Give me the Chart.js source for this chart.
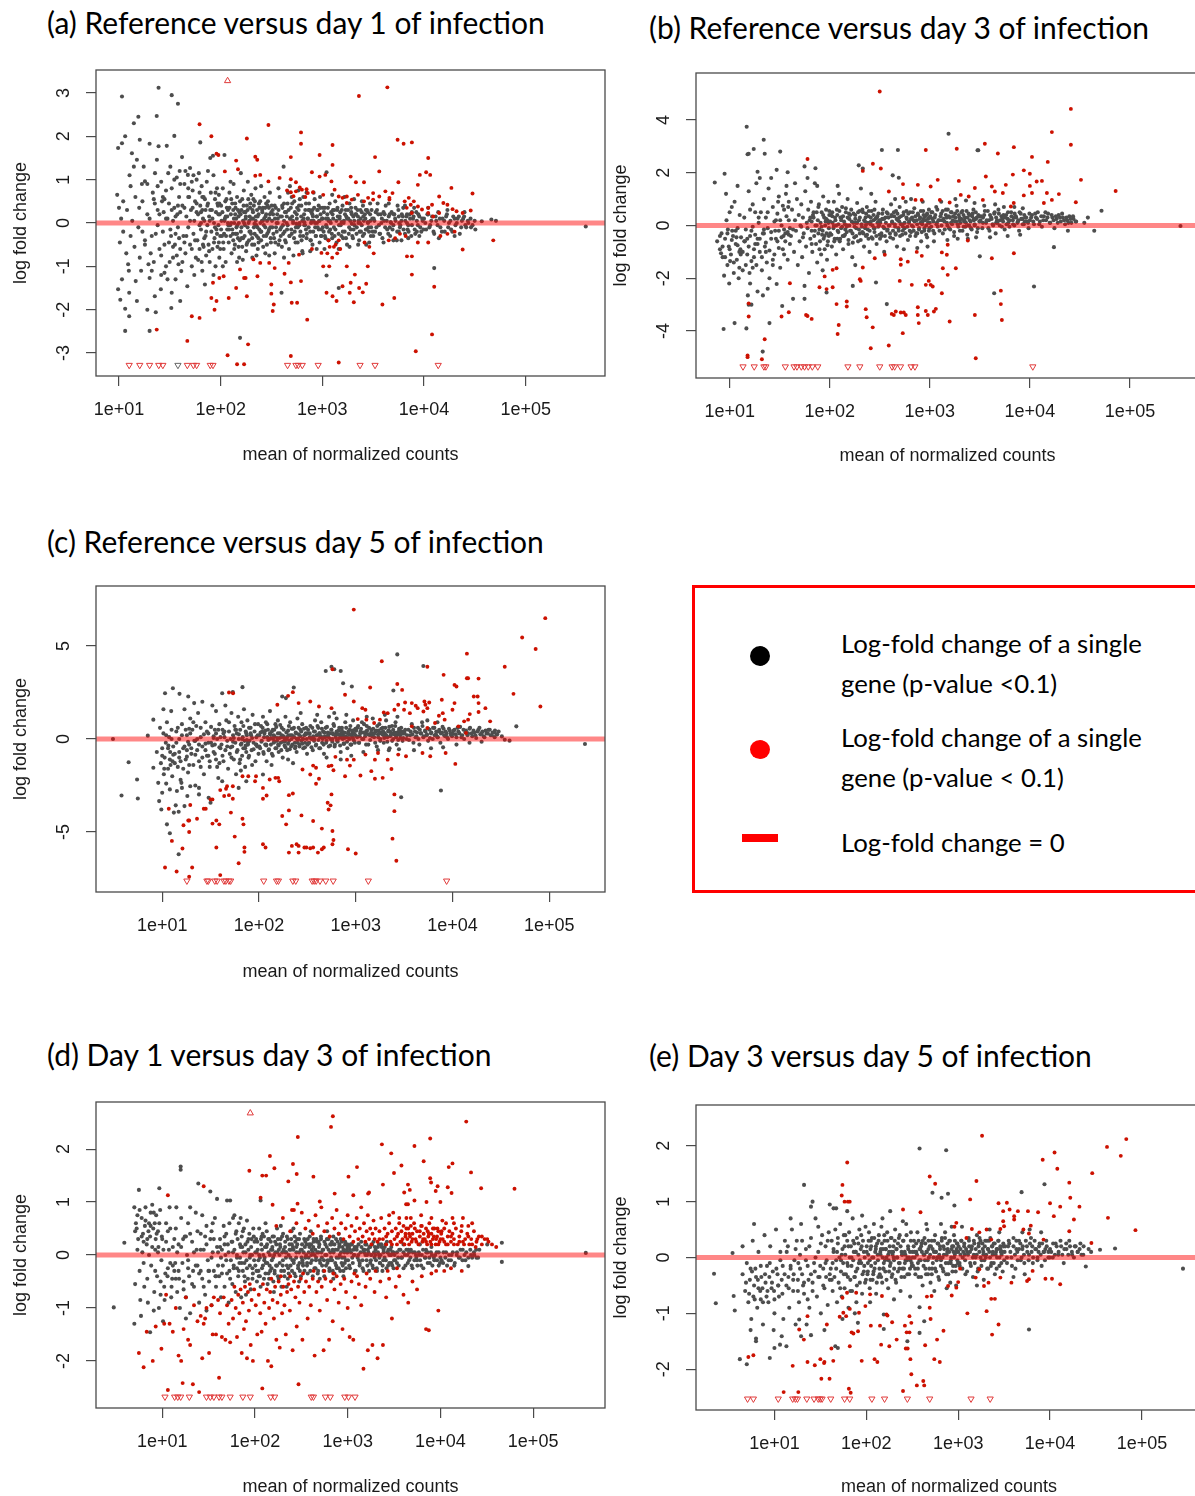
<!DOCTYPE html>
<html><head><meta charset="utf-8">
<script src="https://cdn.jsdelivr.net/npm/chart.js@4.4.1/dist/chart.umd.min.js"></script>
<style>
html,body{margin:0;padding:0;width:1195px;height:1496px;overflow:hidden;background:#fff;position:relative;}
.txt{position:absolute;white-space:nowrap;font-family:Lato,"Open Sans",sans-serif;color:#000;line-height:1.2;}
.bl{display:inline-block;width:0;height:0;vertical-align:baseline;}
</style></head><body>
<div id="tA" class="txt">(a) Reference versus day 1 of infection<span class="bl"></span></div>
<div id="tB" class="txt">(b) Reference versus day 3 of infection<span class="bl"></span></div>
<div id="tC" class="txt">(c) Reference versus day 5 of infection<span class="bl"></span></div>
<div id="tD" class="txt">(d) Day 1 versus day 3 of infection<span class="bl"></span></div>
<div id="tE" class="txt">(e) Day 3 versus day 5 of infection<span class="bl"></span></div>
<div style="position:absolute;left:692px;top:585px;width:700px;height:302px;border:3px solid #ff0000;"></div>
<div style="position:absolute;left:750px;top:646px;width:20px;height:20px;border-radius:50%;background:#000;"></div>
<div style="position:absolute;left:750px;top:740px;width:20px;height:19px;border-radius:50%;background:#ff0000;"></div>
<div style="position:absolute;left:742px;top:834px;width:36px;height:8px;background:#ff0000;"></div>
<div id="L1" class="txt">Log-fold change of a single<span class="bl"></span></div>
<div id="L2" class="txt">gene (p-value &lt;0.1)<span class="bl"></span></div>
<div id="L3" class="txt">Log-fold change of a single<span class="bl"></span></div>
<div id="L4" class="txt">gene (p-value &lt; 0.1)<span class="bl"></span></div>
<div id="L5" class="txt">Log-fold change = 0<span class="bl"></span></div>
<script>
// ---------- DATA: [mean of normalized counts, log fold change] ----------
const xTickValues=[10,100,1000,10000,100000];
const yTicksA=[-3,-2,-1,0,1,2,3];
const yTicksB=[-4,-2,0,2,4];
const yTicksC=[-5,0,5];
const yTicksD=[-2,-1,0,1,2];
const yTicksE=[-2,-1,0,1,2];

const grayA=[[9.6,.65],[9.8,1.73],[10.7,2.92],[10.7,1.84],[11.5,2.0],[9.8,-1.53],[10.3,-1.77],[11.5,-2.49],[11.5,-1.98],[12.6,-2.15],[10.7,-1.3],[12.6,-1.61],[13.4,1.61],[12.7,1.1],[14,2.3],[15.5,2.45],[16,1.92],[15,1.46],[15,-1.8],[14.6,-1.34],[10,.35],[10.5,.1],[11,-.2],[10.2,-.45],[11.8,-.7],[12.3,-.95],[11,.5],[12,.3],[13,-.3],[13.5,.05],[14.2,-.55],[13,.85],[14.5,.6],[15.5,-.1],[16,-.8],[15.8,.35],[12.5,-1.1],[16.5,-1.1],[16.8,.9],[14,1.3],
[18,.96],[20,1.83],[20,-1.27],[19,-2.0],[20,-2.49],[23,-2.06],[22.5,-1.69],[25.8,-1.53],[23.5,2.47],[24.5,3.12],[24.5,1.77],[29.5,1.78],[22.6,1.15],[23.6,1.46],[28,-1.15],[33,-1.61],[32.7,-1.96],[33,2.95],[35,2.01],[38,2.75],[32,1.3],[18,-.5],[19,.2],[21,-.3],[21.5,.7],[22,-.9],[24,.3],[25,-.6],[26,.95],[27,-.2],[28,.55],[29,-1.0],[30,.1],[31,-.45],[33,.8],[34,-.8],[35,.35],[36,-1.3],[37,1.05],[38,-.1],[39,.6],[40,-.6],[17.5,1.3],[19.5,-.95],[26,-1.2],[30.5,1.15],[36,-.25],[39.5,1.2],[27.5,.25],[31.5,-.9],[34,.05],[38.5,-.95],[40,-1.8],[41.7,1.52],[41,-1.11],[40,.9],[24,-.05],[29,.75],[35.5,-.5],[22.5,.45],[17,-.2],[20.5,-.7],[26.5,.5],[32.5,-.3],[37.5,.2],
[47,-1.46],[47.6,1.11],[50,1.27],[61,1.15],[63,1.86],[70,-1.42],[79,1.5],[84,1.55],[42,.4],[43,-.3],[44,.9],[45,-.7],[46,.15],[48,-.1],[49,.6],[50,-.5],[51,.3],[52,-1.0],[53,.75],[54,-.25],[55,.05],[56,.5],[57,-.8],[58,1.0],[59,-.4],[60,.2],[62,-.6],[63,.4],[64,-.15],[65,.85],[66,-1.1],[67,.1],[68,.6],[69,-.35],[71,.3],[72,-.75],[73,.95],[74,-.05],[75,.45],[76,-.5],[77,.15],[78,-.9],[80,.7],[81,-.2],[82,.3],[83,-.6],[85,1.1],[86,.0],[87,-.35],[88,.55],[89,-1.0],[90,.25],[91,-.15],[92,.8],[93,-.55],[94,.4],[95,-.05],[96,.65],[97,-.8],[98,.2],[99,-.3],[45,1.2],[55,-1.2],[65,-.9],[75,1.2],[85,-1.2],[52,.95],[72,-.2],[88,-.1],[58,.25],[62,-.05],[44,-.45],[53,.35],[67,-.5],[78,.05],[93,.45],[48,.8],[70,.55],[96,-.45],
[101,.4],[103,-.3],[105,.8],[107,-.6],[109,1.57],[110,.1],[112,-.9],[114,.55],[116,-.15],[118,.3],[120,-.45],[122,.7],[124,-.05],[126,.2],[128,-.7],[130,.45],[132,-.25],[134,.9],[136,.0],[138,-.5],[140,.35],[143,-.1],[145,.6],[148,-.35],[150,.15],[152,-.8],[155,.5],[155,-2.65],[158,1.15],[158,-.2],[160,.3],[163,-.55],[166,.05],[169,.75],[172,-.3],[175,.25],[178,-.65],[181,.4],[184,-.1],[187,.55],[190,-.4],[193,.15],[196,-.2],[200,.65],[204,-.5],[208,.1],[212,.4],[216,-.25],[220,.8],[224,-.05],[228,.3],[232,-.6],[236,.2],[240,-.15],[245,.5],[250,-.4],[255,.05],[260,.35],[265,-.3],[270,.6],[275,-.1],[280,.2],[285,-.5],[290,.4],[295,-.2],[300,.1],[305,.7],[310,-.35],[315,.25],[105,-1.0],[125,.95],[145,-.9],[165,-.85],[185,.95],[205,-.8],[225,-.75],[250,.85],[275,-.7],[300,-.75],[118,.0],[135,.1],[170,.0],[215,-.02],[260,.05],[140,-.25],[195,.35],[235,-.35],[280,.45],[112,.15],[150,-.55],[210,.55],[102,.05],[108,-.25],[115,.35],[121,-.15],[127,.55],[133,-.4],[139,.2],[146,-.05],[153,.25],[161,-.35],[168,.4],[176,.1],[183,-.45],[191,.05],[199,-.25],[206,.3],[214,-.5],[222,.15],[230,-.1],[238,.45],[247,-.2],[256,.3],[266,-.05],[276,.15],[287,-.25],[298,.35],[308,-.1],
[320,.05],[330,-.25],[340,.4],[350,-.1],[360,.2],[370,-.5],[380,.6],[390,-.3],[397,-1.61],[400,.15],[410,-.05],[416,1.3],[420,.45],[430,-.4],[440,.25],[450,-.15],[460,.7],[470,-.6],[480,.1],[490,.35],[500,-.25],[515,.05],[530,.5],[545,-.45],[560,.2],[575,-.1],[590,.4],[605,-.3],[620,.15],[635,-.65],[650,.6],[665,-.05],[680,.3],[700,-.35],[720,.1],[740,.45],[760,-.2],[780,.25],[800,-.5],[820,.05],[840,.55],[860,-.3],[880,.15],[900,-.1],[920,.4],[940,-.45],[960,.2],[980,-.15],[340,-.7],[370,.8],[420,-.8],[480,.85],[520,-.75],[580,.75],[640,-.7],[700,.7],[760,-.65],[820,.7],[880,-.6],[950,.6],[355,.0],[445,.0],[555,-.02],[665,.02],[775,.0],[885,.0],[400,-.55],[600,.55],[800,.3],[500,.6],[325,.3],[345,-.45],[365,.1],[385,-.15],[405,.35],[425,-.2],[455,.45],[475,-.3],[505,.15],[535,-.2],[565,.35],[595,-.05],[625,-.4],[655,.1],[690,-.15],[730,.3],[770,-.4],[810,.15],[850,-.1],[890,.3],[930,.05],[970,-.3],
[1000,.1],[1030,-.2],[1060,.35],[1100,1.17],[1100,-1.21],[1090,-.05],[1120,.2],[1150,-.4],[1180,.45],[1210,.0],[1240,-.25],[1270,.3],[1300,-.1],[1340,.5],[1380,-.45],[1420,.15],[1450,-1.5],[1460,-.05],[1500,.25],[1540,-.3],[1580,.4],[1620,.0],[1660,-.2],[1700,.3],[1750,-.5],[1800,.1],[1850,.45],[1900,-.15],[1950,.2],[2000,-.35],[2060,.05],[2120,.35],[2180,-.1],[2240,.15],[2300,-.4],[2370,.3],[2440,-.05],[2510,.4],[2580,-.25],[2650,.1],[2730,-.15],[2810,.25],[2890,-.45],[2970,.05],[3050,.3],[3130,-.2],[1050,-.6],[1250,.65],[1450,-.6],[1650,.6],[1850,-.55],[2050,.55],[2250,-.5],[2450,.5],[2700,-.5],[2950,.45],[1150,.05],[1550,.02],[1950,-.02],[2350,.0],[2800,.02],[1015,.35],[1075,-.35],[1135,.1],[1195,-.15],[1260,.2],[1320,-.3],[1400,.3],[1480,.1],[1600,-.35],[1720,.15],[1820,-.25],[1920,.35],[2030,-.15],[2150,.2],[2270,.0],[2400,-.2],[2530,.15],[2680,.3],[2850,-.1],[3000,-.3],
[3200,.1],[3300,-.2],[3450,.3],[3600,-.05],[3750,.2],[3900,-.35],[4050,.05],[4200,.4],[4350,-.15],[4500,.15],[4650,-.3],[4800,.25],[5000,-.05],[5200,.1],[5400,-.4],[5600,.3],[5800,-.1],[6000,.05],[6250,.35],[6500,-.25],[6750,.15],[7000,-.05],[7250,.2],[7500,-.3],[7800,.1],[8100,-.15],[8400,.25],[8700,-.05],[9000,.15],[9400,-.2],[9700,.05],[3500,.45],[4000,-.45],[4500,.45],[5000,-.4],[5500,.4],[6000,-.4],[6500,.4],[7000,-.35],[8000,.35],[9000,-.3],[3800,.0],[4700,.02],[5700,.0],[6800,.0],[3350,.25],[3650,-.25],[4100,.2],[4600,-.1],[5100,.2],[5650,-.2],[6200,.15],[6900,-.15],[7600,.25],[8500,-.2],
[10000,.1],[10500,-.15],[11000,.2],[11500,-.05],[12000,.15],[12600,-1.04],[12600,-.25],[13200,.05],[13800,.25],[14500,-.1],[15200,.1],[16000,-.2],[16800,.2],[17600,.0],[18500,-.15],[19400,.15],[20400,-.05],[21400,.1],[22500,-.25],[23600,.05],[24800,.15],[26000,-.1],[27300,.0],[28700,.1],[30000,-.05],[31500,.05],[11000,.35],[14000,-.35],[17000,.3],[20000,-.3],[25000,.25],
[32000,-.15],[37000,.04],[46000,.08],[51000,.05],[390000,-.08]];
const coreA=[[17,.5],[18,-.4],[19,.9],[20,.1],[21,-1.1],[22,.55],[23,-.25],[24,.85],[25,.2],[26,-.75],[27,.6],[28,-.5],[29,.1],[30,-1.3],[31,.45],[32,-.15],[33,.3],[34,-.55],[35,1.0],[36,.15],[37,-.75],[38,.4],[39,-.35],[40,.25],[42,-.9],[44,.35],[46,-.3],[48,.6],[50,.05],[52,-.6],[54,1.1],[56,-.4],[58,.45],[60,-.85],[62,.7],[64,.0],[66,.3],[68,-.55],
[64,.25],[66,.6],[69,.05],[71,-.3],[74,.4],[77,-.65],[79,.3],[83,.1],[86,-.45],[89,.7],[92,-.25],[95,.2],[97,.45],[99,-.6],
[101,-.15],[104,.25],[106,-.45],[109,.05],[111,.5],[113,-.3],[116,.15],[119,-.05],[122,.35],[125,-.3],[127,.0],[130,-.15],[133,.3],[136,-.6],[139,.45],[142,.1],[145,-.25],[148,.3],[151,.0],[154,-.4],[157,.2],[160,-.1],[163,.55],[166,-.35],[170,.25],[173,-.05],[177,.15],[180,-.5],[184,.3],[188,.0],[192,-.2],[196,.45],[200,.1],[204,-.35],[208,.25],[212,-.1],[217,.5],[221,.05],[226,-.3],[231,.15],[236,-.45],[241,.35],[246,.0],[251,-.2],[257,.25],[262,-.55],[268,.1],[274,.35],[280,-.3],[286,.05],[292,.5],[299,-.15],[305,.2],[312,-.45],[318,.4],
[322,-.1],[328,.2],[335,-.35],[342,.1],[349,.35],[356,-.2],[364,.0],[371,.3],[379,-.4],[387,.15],[395,-.1],[403,.4],[412,-.25],[420,.05],[429,.25],[438,-.45],[447,.15],[456,-.05],[466,.3],[475,-.3],[485,.1],[495,-.15],[505,.45],[516,.0],[527,-.35],[538,.25],[549,-.1],[561,.1],[572,-.45],[584,.3],[597,.0],[609,-.2],[622,.4],[635,.05],[648,-.3],[662,.2],[676,-.05],[690,.45],[704,-.25],[719,.1],[734,-.1],[749,.3],[765,-.4],[781,.05],[797,.2],[814,-.2],[831,.35],[848,.0],[866,-.3],[884,.15],[902,.3],[921,-.15],[940,.05],[960,.35],[980,-.3],[995,.1],
[1010,-.1],[1035,.25],[1060,-.3],[1085,.1],[1110,-.1],[1135,.35],[1165,-.2],[1190,.05],[1220,.25],[1250,-.35],[1280,.1],[1310,.3],[1345,-.15],[1375,.05],[1410,.35],[1445,-.25],[1480,.15],[1515,-.05],[1555,.3],[1590,-.2],[1630,.05],[1670,.2],[1710,-.35],[1750,.1],[1790,.3],[1835,-.1],[1880,.05],[1925,.25],[1970,-.3],[2020,.15],[2070,-.05],[2120,.2],[2170,-.25],[2220,.3],[2270,.05],[2330,-.2],[2380,.1],[2440,.25],[2500,-.3],[2560,.05],[2620,.2],[2680,-.15],[2750,.3],[2810,.0],[2880,-.2],[2950,.2],[3020,-.1],[3100,.1],[3170,-.3],
[3250,.05],[3400,-.1],[3550,.2],[3700,-.25],[3850,.1],[4000,.25],[4150,-.1],[4300,.05],[4450,-.25],[4600,.2],[4750,.0],[4900,-.15],[5050,.2],[5250,.05],[5450,-.2],[5650,.15],[5850,-.05],[6050,.2],[6300,-.15],[6550,.05],[6800,.2],[7050,-.2],[7300,.1],[7600,-.05],[7900,.15],[8200,-.25],[8500,.05],[8800,.2],[9200,-.1],[9600,.1],[9900,-.15],
[10300,.0],[10800,.2],[11300,-.1],[11800,.05],[12400,-.2],[13000,.15],[13600,-.05],[14300,.1],[15000,-.2],[15800,.05],[16500,.15],[17300,-.1],[18200,.05],[19000,-.2],[20000,.1],[21000,.0],[22000,.15],[23200,-.1],[24300,.1],[25500,-.05],[27000,.05],[29000,-.1]];
const redA=[[62,2.28],[81,2.0],[181,1.95],[295,2.26],[617,2.09],[617,1.83],[1260,1.8],[2290,2.93],[4360,3.13],[5500,1.92],[6300,1.83],[7600,1.86],[91,1.6],[95,1.57],[110,1.19],[142,1.44],[148,1.24],[219,1.53],[229,1.46],[219,1.09],[245,1.11],[295,.96],[380,1.04],[490,1.52],[490,1.01],[550,.94],[790,1.17],[940,1.57],[940,1.07],[1070,1.11],[1260,1.34],[1230,.96],[1900,1.07],[2140,.94],[2570,.94],[3300,1.52],[3630,1.19],[11000,1.5],[10500,1.17],[11500,1.11],[9100,1.11],[5600,.94],[18600,.81],[30000,.68],[8700,.88],
[490,.71],[550,.73],[630,.77],[720,.69],[810,.71],[1020,.65],[1320,.77],[1450,.61],[1580,.58],[1740,.61],[1950,.54],[2240,.65],[2820,.58],[3160,.69],[3630,.61],[4170,.73],[4570,.58],[4900,.69],[6460,.5],[7080,.58],[7410,.42],[7940,.5],[8710,.38],[9550,.31],[11000,.35],[12000,.42],[14100,.61],[15500,.46],[17000,.42],[19100,.32],[20900,.27],[24000,.23],[28800,.29],[14100,.23],[4570,.54],[3160,.54],[2570,.5],[1740,.46],[6760,.35],[7590,.23],[11000,.23],[12300,.15],[450,.75],[520,.62],[600,.82],[680,.6],[700,.78],
[97,-1.27],[107,-1.23],[84,-1.38],[81,-1.73],[91,-1.8],[87,-2.0],[52,-2.15],[62,-2.19],[47,-2.72],[23.5,-2.46],[117,-3.05],[145,-3.26],[170,-3.26],[186,-2.8],[120,-1.73],[142,-1.5],[155,-1.07],[170,-1.27],[176,-1.27],[181,-1.69],[210,-.84],[230,-1.23],[245,-.92],[300,-.92],[315,-1.42],[315,-1.63],[325,-2.03],[333,-1.88],[340,-1.04],[425,-1.17],[467,-.92],[490,-1.37],[500,-1.84],[565,-1.84],[617,-1.34],[590,-.73],[490,-3.07],[710,-2.23],[790,-.6],[980,-.69],[1020,-1.0],[1170,-1.0],[1120,-.7],[1180,-.55],[1150,-.4],[1250,-.8],[1300,-.55],[1350,-.5],[1400,-.7],[1450,-.4],[1500,-.6],[1100,-1.61],[1260,-1.69],[1380,-1.8],[1580,-1.46],[1740,-1.0],[1450,-3.22],[1900,-1.38],[1860,-1.61],[2040,-1.83],[2090,-1.19],[2300,-1.5],[2500,-1.6],[2700,-1.4],[2800,-1.0],[2600,-.45],[2900,-.55],[3200,-.7],[3900,-1.88],[5100,-1.73],[7600,-1.19],[7600,-.77],[6800,-.77],[8300,-2.96],[12000,-2.57],[12600,-1.47],[24000,-.61],[48000,-.4],[4500,-.4],[5200,-.35],[5800,-.25],[6600,-.3],[8700,-.45],[11000,-.45],[14500,-.3],[17000,-.25],[20000,-.2]];
const triDownA=[12.6,16,20,24.6,27,47,54,58,79,84,455,550,580,635,910,2350,3300,13800];
const triDownGrayA=[38];
const triUpA=[117];

const grayB=[[7.1,1.63],[8.7,-3.92],[8.9,1.96],[7.5,-.6],[8,-.9],[8.3,-.3],[8.5,-1.2],[9,-.5],[9.3,.2],[9.5,-1.5],[9.8,-.8],[10,.5],[10.3,-1.1],[10.6,-.2],[11,-1.8],[11.2,.9],[11.5,-.7],[11.8,-1.3],[12,-.1],[12.3,-2.0],[12.6,.4],[12.8,-.9],[11.2,-3.7],[10.5,.7],[9.2,1.2],[12,1.5],[8.8,-1.9],[12.5,-1.6],[10.8,-.4],[9.6,-.15],[8.2,-1.05],[10.1,-1.35],[11.7,-.45],[9.9,-2.2],[12.9,-1.1],
[14.8,3.74],[15.1,2.7],[15.5,2.72],[17.4,2.9],[21.9,3.25],[22.4,2.72],[32,2.8],[19,2.04],[29.5,2.11],[13.5,-1.0],[14,.3],[14.5,-1.5],[15,-.5],[15.5,1.3],[16,-2.2],[16.5,-.2],[17,.8],[17.5,-1.2],[18,-.7],[18.5,1.6],[19,-2.5],[19.5,.1],[20,-1.0],[20.5,.5],[21,-1.7],[21.5,-.3],[22,1.0],[22.5,-.8],[23,.3],[23.5,-1.4],[24,-.1],[24.5,1.4],[25,-2.0],[26,-.5],[27,.7],[28,-1.1],[29,.2],[30,-.6],[31,1.1],[32,-1.6],[33,.0],[34,-.9],[35,.6],[36,-.3],[37,1.5],[38,-1.3],[39,.2],[40,-.7],[14.7,-3.9],[15.2,-2.65],[15.5,-3.0],[16.5,-3.0],[21.5,-2.65],[25,-3.7],[21.4,-4.78],[33.5,-3.05],[29.5,-2.22],[15.8,-1.8],[18,.5],[26,1.8],[22,-.3],[28.5,-.2],[34.5,-.4],[20,1.8],[24,-2.4],[17,-1.6],[30.5,.9],[36.5,1.2],[38.5,.7],[14.2,-.6],[16,.6],[19,-.5],[23,-1.0],[27,-1.5],[31,-.2],[35,-1.1],[39,-.35],
[38,2.02],[56,2.24],[72,2.17],[43,-2.78],[56,-2.78],[56,-2.29],[93,-2.54],[41,-.4],[42,.6],[44,-1.0],[45,.2],[46,-.2],[47,1.0],[48,-1.5],[49,.4],[50,-.6],[51,.0],[52,.8],[53,-1.2],[54,.3],[55,-.3],[57,1.3],[58,-.8],[59,.1],[60,-.1],[61,.6],[62,-1.8],[63,.2],[64,-.5],[65,.9],[66,-.2],[67,-1.0],[68,.4],[70,-.4],[71,1.6],[72,.0],[73,-.7],[74,.5],[75,-1.4],[76,.2],[77,-.3],[78,.8],[80,-.6],[81,.1],[82,-1.1],[83,.5],[85,-.2],[86,1.1],[87,-.5],[88,.3],[89,-.9],[90,.0],[92,.6],[93,-.3],[94,-1.3],[95,.2],[96,-.6],[97,.9],[98,-.1],[99,.4],[45,1.6],[60,1.8],[75,1.5],[85,-1.7],[52,-.05],[66,.15],[79,-.15],[91,.15],[43,-.15],[54,-.45],[69,.3],[84,-.35],[98,-.4],
[101,-.3],[103,.4],[105,-.8],[107,.1],[110,.9],[112,-.5],[114,.2],[116,-1.1],[118,.6],[120,-.2],[122,.05],[124,1.2],[126,-.6],[128,.3],[130,-.1],[133,.7],[136,-.9],[139,.15],[142,-.35],[145,.5],[148,-.05],[151,1.0],[154,-.7],[157,.25],[160,-.2],[164,.6],[168,-1.2],[172,.1],[176,-.45],[180,.4],[184,-.1],[188,.85],[192,-.6],[196,.2],[200,-.3],[205,1.4],[210,-.05],[215,.5],[220,-.8],[225,.15],[230,-.4],[235,.7],[240,-.15],[245,.35],[250,-1.0],[256,.05],[262,.55],[268,-.5],[274,.2],[280,-.25],[287,.9],[294,-.7],[300,.1],[307,.45],[314,-.35],[195,2.28],[214,2.16],[290,-2.16],[170,-2.29],[120,1.5],[180,-1.5],[260,1.2],[150,.0],[230,.02],[110,-.02],[280,.6],[135,-.4],[106,.35],[119,-.5],[131,.3],[143,-.15],[156,.45],[169,-.3],[182,.1],[198,.55],[212,-.25],[228,.3],[244,-.5],[258,.15],[276,-.1],[296,.3],[311,.0],
[320,.1],[330,-.4],[340,.6],[350,-.1],[360,.3],[332,2.86],[480,2.86],[370,-.6],[380,.45],[372,-2.98],[390,.0],[400,-.3],[410,.8],[420,.15],[426,1.9],[490,1.81],[430,-.5],[440,.35],[450,-.05],[460,.55],[470,-.8],[480,.2],[490,-.2],[500,.7],[515,.05],[530,-.35],[545,.4],[560,-.1],[575,.9],[590,.25],[605,-.55],[620,.1],[635,.5],[650,-.25],[665,.3],[680,-.05],[700,.65],[720,-.4],[740,.2],[760,.45],[780,-.15],[800,.3],[820,-.6],[840,.05],[860,.55],[880,-.2],[900,.35],[920,.0],[940,-.45],[960,.25],[980,.6],[350,-1.0],[450,1.0],[550,-.9],[650,1.0],[750,-.85],[850,.9],[950,-.8],[335,.25],[375,-.2],[415,.4],[455,-.3],[495,.3],[540,-.05],[585,.55],[630,-.2],[690,.2],[750,-.3],[810,.1],[870,.25],[930,.4],[990,-.1],
[1000,.1],[1040,.5],[1080,-.2],[1120,.3],[1160,.7],[1200,-.05],[1250,.2],[1300,.45],[1350,-.3],[1400,.15],[1450,.6],[1500,.0],[1550,.35],[1600,-.15],[1650,.5],[1700,.2],[1750,-.4],[1800,.3],[1850,.75],[1900,.05],[1950,.4],[2000,-.2],[2060,.25],[2120,.55],[2180,-.05],[2240,.3],[2300,.1],[2370,-.35],[2440,.45],[2510,.2],[2580,-.1],[2650,.35],[2730,.6],[2810,.0],[2890,.25],[2970,-.25],[3050,.4],[3130,.15],[1540,3.48],[3000,2.85],[3050,2.85],[3160,-1.17],[1100,-.6],[1500,-.55],[1900,-.5],[2400,-.5],[2900,-.45],[1300,.9],[1800,1.0],[2300,.95],[2800,.85],[1060,.25],[1180,.1],[1330,.2],[1480,.3],[1630,.1],[1780,.15],[1980,.2],[2200,.15],[2470,.0],[2760,.2],
[3200,.2],[3350,-.1],[3500,.4],[3650,.1],[3800,.55],[3950,-.2],[4100,.3],[4250,.05],[4400,.45],[4550,-.3],[4700,.2],[4850,.6],[5000,.0],[5200,.35],[5400,.15],[5600,-.15],[5800,.4],[6000,.25],[6250,-.05],[6500,.5],[6750,.2],[7000,.0],[7250,.35],[7500,.1],[7800,-.2],[8100,.45],[8400,.25],[8700,.05],[9000,.3],[9400,.15],[9700,-.1],[4400,-2.57],[3500,.75],[4500,.8],[5500,.7],[7000,.7],[8500,.65],[4000,-.45],[6000,-.4],[8000,-.35],[3400,.3],[3900,.2],[4600,.1],[5300,.25],[6100,.1],[6900,.3],[7700,.2],[8900,.15],
[10000,.2],[10500,.4],[11000,.05],[11500,.3],[12000,.5],[12600,.15],[13200,-.05],[13800,.35],[14500,.2],[15200,.45],[16000,.1],[16800,.3],[17600,-.1],[18500,.25],[19400,.4],[20400,.15],[21400,.3],[22500,.05],[23600,.2],[24800,.35],[26000,.1],[27300,.25],[28700,.15],[11000,-2.31],[17400,-.82],[24000,-.2],
[52000,.56],[44000,-.2],[35000,.1],[38000,.3],[320000,-.02]];
const coreB=[[8,-.4],[8.5,-.8],[9,-1.2],[9.5,-.3],[10,-.9],[10.5,-.55],[11,-1.4],[11.5,-.2],[12,-.75],[12.5,-1.0],[13,-.45],[13.5,-1.7],[14,-.6],[14.5,-.15],[15,-1.1],[15.5,-.8],[16,-.4],[16.5,-1.35],[17,-.05],[17.5,-.9],[18,-.35],[18.5,-1.5],[19,-.7],[19.5,.3],[20,-.5],[21,-1.2],[22,-.15],[23,-.65],[24,.5],[25,-.95],[26,-.25],[27,-1.3],[28,.15],[29,-.5],[30,.45],[31,-.85],[32,.2],[33,-.45],[34,.75],[35,-.15],[36,-.6],[37,.35],[38,-.25],[39,.9],[40,-.1],
[64,.3],[66,-.7],[69,.5],[71,-.2],[74,.0],[77,.7],[79,-.9],[83,-.05],[86,.4],[89,-.4],[92,.25],[95,-.75],[97,.1],[99,.55],
[101,.15],[104,-.35],[106,.5],[109,-.1],[111,-.6],[113,.3],[116,.0],[119,.4],[122,-.25],[125,.55],[127,-.5],[130,.2],[133,-.05],[136,.35],[139,-.4],[142,.05],[145,.65],[148,-.25],[151,.3],[154,-.55],[157,.0],[160,.4],[163,-.2],[166,.15],[170,-.65],[173,.45],[177,-.05],[180,.25],[184,-.4],[188,.1],[192,.5],[196,-.15],[200,.3],[204,-.55],[208,.05],[212,.6],[217,-.3],[221,.2],[226,-.1],[231,.45],[236,-.35],[241,.1],[246,.55],[251,-.2],[257,.3],[262,-.45],[268,.0],[274,.4],[280,-.1],[286,.25],[292,-.4],[299,.35],[305,-.05],[312,.2],[318,-.5],
[322,.2],[328,-.3],[335,.45],[342,-.05],[349,.25],[356,-.4],[364,.1],[371,.5],[379,-.15],[387,.3],[395,.0],[403,-.45],[412,.35],[420,.1],[429,-.2],[438,.5],[447,.05],[456,-.35],[466,.25],[475,.45],[485,-.1],[495,.15],[505,-.4],[516,.35],[527,.05],[538,-.2],[549,.5],[561,.1],[572,-.3],[584,.3],[597,-.05],[609,.45],[622,.15],[635,-.4],[648,.25],[662,.0],[676,.5],[690,-.2],[704,.15],[719,.35],[734,-.3],[749,.05],[765,.4],[781,-.1],[797,.25],[814,.55],[831,-.25],[848,.15],[866,.4],[884,-.1],[902,.2],[921,-.35],[940,.45],[960,.1],[980,-.2],[995,.3],
[1010,.35],[1035,-.05],[1060,.5],[1085,.15],[1110,-.3],[1135,.4],[1165,.05],[1190,.6],[1220,.2],[1250,-.2],[1280,.35],[1310,.0],[1345,.55],[1375,.25],[1410,-.15],[1445,.4],[1480,.1],[1515,.6],[1555,-.1],[1590,.3],[1630,.5],[1670,.05],[1710,.35],[1750,-.25],[1790,.45],[1835,.15],[1880,.55],[1925,-.05],[1970,.3],[2020,.1],[2070,.5],[2120,-.2],[2170,.4],[2220,.2],[2270,-.05],[2330,.55],[2380,.3],[2440,.0],[2500,.4],[2560,.15],[2620,-.15],[2680,.45],[2750,.25],[2810,.05],[2880,.5],[2950,.3],[3020,-.1],[3100,.35],[3170,.15],
[3250,.35],[3400,.1],[3550,.55],[3700,.2],[3850,-.1],[4000,.4],[4150,.25],[4300,.0],[4450,.5],[4600,.3],[4750,.1],[4900,.45],[5050,.2],[5250,-.05],[5450,.4],[5650,.3],[5850,.05],[6050,.5],[6300,.2],[6550,.35],[6800,.05],[7050,.45],[7300,.3],[7600,.15],[7900,.5],[8200,.25],[8500,.05],[8800,.4],[9200,.3],[9600,.1],[9900,.45],
[10300,.3],[10800,.15],[11300,.45],[11800,.25],[12400,.05],[13000,.35],[13600,.2],[14300,.5],[15000,.3],[15800,.1],[16500,.4],[17300,.2],[18200,.35],[19000,.1],[20000,.3],[21000,.45],[22000,.2],[23200,.3],[24300,.1],[25500,.25],[27000,.35],[29000,.15]];
const redB=[[316,5.08],[270,2.34],[324,2.16],[214,2.07],[60,2.52],[912,2.86],[1860,2.91],[3550,3.1],[4790,2.73],[6920,2.97],[10500,2.6],[15100,2.41],[16600,3.54],[25700,4.42],[25700,3.06],[32400,1.73],[72000,1.31],[8700,2.09],[10000,1.96],[6760,1.93],[5750,1.54],[11700,1.67],[13200,1.69],[10500,1.23],[14800,1.23],[19500,1.19],[28800,.88],[16600,.97],[13800,.85],[10000,1.5],[8700,1.14],[6900,.85],[6460,.72],[5370,1.23],[4470,1.29],[4170,1.48],[3630,1.86],[3390,.97],[2820,1.42],[2450,1.1],[2040,1.16],[1950,1.69],[1580,.87],[1260,.97],[1200,1.73],[1020,1.48],[830,.97],[760,1.54],[720,.97],[540,1.57],[390,1.29],[540,1.04],
[15.5,-2.95],[15.5,-3.45],[15.1,-4.93],[15.1,-4.99],[21,-5.07],[22.4,-4.31],[33,-3.45],[39,-3.29],[40,-2.19],[58,-3.39],[60,-3.43],[66,-3.54],[79,-2.34],[89,-1.93],[93,-2.41],[107,-2.34],[107,-1.68],[117,-1.62],[123,-3.77],[120,-4.11],[117,-2.98],[148,-2.88],[148,-3.07],[204,-2.1],[200,-2.04],[214,-1.59],[229,-3.17],[234,-3.48],[269,-3.86],[257,-4.65],[282,-1.24],[355,-1.11],[389,-4.55],[417,-3.35],[437,-3.39],[457,-3.26],[501,-2.1],[513,-3.3],[550,-3.3],[575,-3.39],[537,-4.08],[513,-1.28],[513,-1.49],[603,-1.37],[661,-2.25],[759,-3.1],[759,-3.39],[776,-3.7],[741,-1.0],[832,-1.15],[912,-2.25],[912,-3.24],[955,-3.39],[977,-2.1],[1020,-2.25],[1070,-2.31],[1100,-3.26],[1150,-3.16],[1320,-2.57],[1320,-1.02],[1350,-1.62],[1480,-1.11],[1510,-1.87],[1580,-3.64],[1820,-1.62],[1510,-.73],[2880,-5.03],[2820,-3.39],[2400,-.57],[4170,-1.24],[5130,-2.47],[5130,-2.98],[5250,-3.58],[6920,-1.05]];
const triDownB=[13.6,17.6,22,23,36,44,47,52,56,61,67,76,152,200,316,420,445,510,650,710,10700];

const grayC=[[3.1,0],[3.8,-3.04],[4.5,-1.25],[5.5,-2.18],[5.6,-3.2],[7.1,.18],[8.1,1.04],[8.1,-1.55],[9.3,-3.34],[9.8,-3.79],[11.2,-4.59],[12,-5.07],[9.1,-2.36],[10,-2.89],[12,-2.71],[9.5,.6],[10,-.5],[10.3,.3],[10.6,-1.0],[10.9,-.2],[11.2,.9],[11.5,-1.6],[11.8,.1],[12.1,-.7],[12.4,1.5],[12.7,-2.0],[13,-.4],[10.7,2.46],[12.9,2.73],[9.7,-1.3],[11,-2.4],[12.5,.5],[8.8,-.7],[10.3,1.6],[12.8,-1.2],[10.4,-1.9],[11.6,-.35],[12.2,-1.4],
[15.1,2.43],[18.6,2.29],[21.4,1.93],[14.8,-6.2],[13.8,-3.57],[14.8,-3.91],[13.2,-3.96],[17,-3.61],[15.8,-2.36],[19.5,-2.54],[24,-2.63],[24,-2.98],[18.2,-3.07],[30.2,-3.16],[31.6,-3.43],[16,-2.63],[13.5,-.8],[14,.4],[14.5,-1.5],[15,.0],[15.5,-2.2],[16,.8],[16.5,-.5],[17,1.6],[17.5,-1.1],[18,.2],[18.5,-1.8],[19,-.3],[19.5,1.1],[20,-.8],[20.5,.5],[21,-1.4],[21.5,-.1],[22,-2.5],[22.5,.7],[23,-.6],[23.5,1.4],[24,-1.2],[25,.1],[26,-.4],[27,-1.9],[28,.9],[29,-.9],[30,.3],[31,-1.5],[32,-.2],[33,1.8],[34,-.7],[35,.5],[36,-1.1],[37,.0],[38,-2.1],[39,.8],[40,-.5],[14.2,-2.8],[26,2.0],[36,1.5],[19,.55],[28,-.25],[34,.15],[15,-1.0],[18,-.6],[22,-.1],[25,-1.5],[30,-.9],[35,-.3],[39,-1.3],
[41.7,2.46],[53.7,2.52],[67.6,2.79],[41.7,-2.27],[61.7,-2.63],[74,-2.27],[41,-.3],[42,.5],[43,-1.2],[44,.1],[45,-.6],[46,1.0],[47,-.1],[48,-1.6],[49,.4],[50,-.8],[51,.0],[52,1.4],[53,-.4],[54,.2],[55,-1.1],[56,.7],[57,-.2],[58,-1.9],[59,.3],[60,-.6],[61,1.2],[62,.0],[63,-1.3],[64,.5],[65,-.3],[66,.9],[67,-.9],[68,.1],[69,-.5],[70,1.6],[71,-.1],[72,-1.5],[73,.4],[74,-.7],[75,.2],[76,1.0],[77,-.3],[78,-1.0],[79,.6],[80,-.1],[82,.3],[84,-.6],[86,1.3],[88,-.2],[90,.4],[92,-1.2],[94,.1],[96,-.4],[98,.8],[99,-.8],[45,1.8],[65,-1.7],[85,-1.4],[55,.05],[75,-.05],[43,.3],[51,-.45],[58,.5],[66,-.25],[73,-.35],[83,.2],[93,-.3],
[101,.2],[103,-.5],[105,.7],[107,-.1],[110,-1.91],[110,1.2],[112,-.8],[114,.3],[116,-.3],[118,.9],[120,-1.2],[122,.1],[124,.5],[126,-.6],[128,.0],[130,1.5],[133,-.3],[136,.4],[139,-.9],[142,.2],[145,-.15],[148,.8],[151,-.5],[154,.05],[157,1.0],[160,-.7],[164,.3],[168,-.2],[172,.6],[176,-1.0],[180,.15],[184,-.35],[188,1.2],[192,.0],[196,-.6],[200,.45],[205,-.1],[210,.9],[215,-.4],[220,.2],[225,-1.3],[230,.6],[235,-.2],[240,.35],[245,-.7],[250,1.1],[256,.0],[262,-.3],[268,.5],[274,-.1],[280,.8],[287,-.5],[294,.2],[300,-.2],[307,.6],[314,-.8],[174,2.29],[190,2.2],[229,2.77],[135,-1.4],[200,-1.1],[270,1.4],[140,.0],[250,.02],[108,.4],[119,-.35],[131,.25],[144,.5],[158,-.3],[171,.1],[186,-.15],[202,.2],[218,.55],[238,-.4],[258,.25],[284,.0],[304,.3],
[320,.3],[330,-.2],[340,.7],[350,.0],[360,-.6],[370,.4],[380,1.0],[390,-.3],[400,.2],[410,.6],[420,-.5],[430,.1],[440,.9],[450,-.2],[460,.4],[470,-.8],[480,.15],[490,.6],[500,-.1],[490,3.66],[562,3.89],[600,3.75],[700,3.66],[741,3.0],[912,2.82],[515,.35],[530,1.2],[545,-.35],[560,.5],[575,.0],[590,.8],[605,-.4],[620,.25],[635,1.1],[650,-.15],[665,.45],[680,.05],[700,-.7],[720,.6],[740,.2],[760,-.25],[780,.9],[800,.1],[820,-.5],[840,.4],[860,.0],[880,.7],[900,-.3],[920,.3],[940,1.0],[960,-.1],[980,.5],[400,1.3],[600,1.4],[800,1.3],[500,-1.0],[700,-1.1],[900,-.9],[335,.1],[375,.0],[425,.3],[475,.35],[525,.1],[580,.3],[640,-.05],[710,.3],[770,.05],[850,.25],[930,.1],
[1000,.2],[1040,.6],[1080,-.2],[1120,.4],[1160,.9],[1200,.0],[1250,.3],[1300,.7],[1350,-.3],[1400,.2],[1450,.5],[1500,1.1],[1550,.1],[1600,.4],[1650,-.4],[1700,.25],[1750,.8],[1800,.0],[1850,.35],[1900,.6],[1950,-.2],[2000,.3],[2060,1.0],[2120,.1],[2180,.45],[2240,-.5],[2300,.2],[2370,.7],[2440,.0],[2510,.35],[2580,.9],[2650,-.3],[2730,.25],[2810,.55],[2890,.05],[2970,.4],[3050,-.1],[3130,.3],[2690,4.55],[2450,2.61],[2950,-3.13],[1200,-.7],[1700,-.6],[2200,-.6],[2800,-.55],[1300,1.2],[2000,1.3],[2700,1.2],[1100,.15],[1280,.4],[1480,.25],[1720,.45],[1980,.15],[2270,.4],[2600,.2],[2900,.3],
[3200,.3],[3350,.0],[3500,.5],[3650,.2],[3800,.8],[3950,-.2],[4100,.4],[4250,.15],[4400,.6],[4550,-.3],[4700,.3],[4850,.9],[5000,.1],[5200,.45],[5400,.2],[5600,-.1],[5800,.5],[6000,.3],[6250,.0],[6500,.6],[6750,.25],[7000,.1],[7250,.4],[7500,-.2],[7800,.35],[8100,.55],[8400,.15],[8700,.3],[9000,.0],[9400,.45],[9700,.2],[5000,3.93],[7600,-2.77],[4000,-.6],[6000,-.5],[8000,-.45],[5500,1.0],[7000,.9],
[10000,.3],[10500,.5],[11000,.1],[11500,.4],[12000,.65],[12600,.2],[13200,.0],[13800,.45],[14500,.3],[15200,.6],[16000,.15],[16800,.35],[17600,.05],[18500,.5],[19400,.25],[20400,.4],[21400,.1],[22500,.3],[23600,.5],[24800,.2],[26000,.35],[27300,.1],[28700,.25],[30000,.4],[11000,-.3],[15000,-.2],[20000,-.15],
[32400,.14],[27500,.46],[34700,-.04],[38900,-.09],[45700,.68],[234000,-.27]];
const coreC=[[10,-.9],[10.5,-1.6],[11,.2],[11.5,-.5],[12,-1.1],[12.5,.0],[13,-.85],[13.5,-1.3],[14,-.2],[14.5,.6],[15,-.7],[15.5,-1.2],[16,.2],[16.5,-1.6],[17,-.4],[17.5,.5],[18,-.95],[18.5,-.15],[19,-1.4],[19.5,.3],[20,-.5],[21,.9],[22,-.85],[23,.0],[24,-.3],[25,.6],[26,-1.0],[27,.25],[28,-.6],[29,.4],[30,-.2],[31,-1.2],[32,.65],[33,-.35],[34,.05],[35,-.8],[36,.3],[37,-1.5],[38,.5],[39,-.45],[40,.1],
[42,-.9],[44,.4],[47,-.4],[49,.9],[52,-1.0],[54,-.15],[57,.5],[59,-.7],[62,.25],[64,-1.1],[67,.0],[69,.7],[72,-.5],[74,.3],[77,-.2],[79,-.9],[82,.6],[85,.05],[88,-.55],[91,.8],[94,-.3],[97,.2],
[101,-.4],[104,.35],[106,-.15],[109,.6],[111,-.7],[113,.1],[116,.45],[119,-.3],[122,.8],[125,-.05],[127,-.55],[130,.3],[133,.05],[136,-.8],[139,.5],[142,-.2],[145,.15],[148,-.5],[151,.65],[154,-.1],[157,.3],[160,-.35],[163,.05],[166,.75],[170,-.6],[173,.2],[177,-.15],[180,.5],[184,.0],[188,-.45],[192,.35],[196,.1],[200,-.25],[204,.7],[208,-.55],[212,.2],[217,.0],[221,-.3],[226,.55],[231,.1],[236,-.5],[241,.3],[246,.0],[251,-.2],[257,.6],[262,-.4],[268,.15],[274,.4],[280,-.25],[286,.0],[292,.55],[299,-.45],[305,.25],[312,.0],[318,-.3],
[322,.5],[328,-.2],[335,.3],[342,.05],[349,-.45],[356,.6],[364,.15],[371,-.1],[379,.4],[387,-.35],[395,.2],[403,.7],[412,-.05],[420,.3],[429,-.5],[438,.15],[447,.55],[456,.0],[466,-.3],[475,.35],[485,.1],[495,-.2],[505,.65],[516,.2],[527,-.4],[538,.3],[549,.0],[561,.5],[572,-.15],[584,.25],[597,.7],[609,-.3],[622,.1],[635,.4],[648,-.1],[662,.25],[676,.6],[690,-.35],[704,.15],[719,.45],[734,.0],[749,-.25],[765,.35],[781,.15],[797,.6],[814,-.15],[831,.3],[848,.05],[866,.5],[884,-.3],[902,.2],[921,.45],[940,.0],[960,.3],[980,-.2],[995,.55],
[1010,.45],[1035,.1],[1060,.7],[1085,-.2],[1110,.3],[1135,.55],[1165,.0],[1190,.35],[1220,.8],[1250,.15],[1280,-.3],[1310,.45],[1345,.25],[1375,.6],[1410,-.05],[1445,.35],[1480,.15],[1515,.55],[1555,.3],[1590,-.2],[1630,.45],[1670,.7],[1710,.1],[1750,.3],[1790,-.1],[1835,.55],[1880,.25],[1925,.4],[1970,.05],[2020,.6],[2070,.2],[2120,-.15],[2170,.4],[2220,.65],[2270,.15],[2330,.3],[2380,-.1],[2440,.5],[2500,.25],[2560,.7],[2620,.1],[2680,.35],[2750,-.05],[2810,.45],[2880,.2],[2950,.6],[3020,.3],[3100,.05],[3170,.4],
[3250,.5],[3400,.2],[3550,-.05],[3700,.4],[3850,.25],[4000,.6],[4150,.1],[4300,.35],[4450,.0],[4600,.5],[4750,.3],[4900,.7],[5050,.15],[5250,.4],[5450,.25],[5650,.55],[5850,.05],[6050,.35],[6300,.6],[6550,.2],[6800,.4],[7050,.1],[7300,.5],[7600,.3],[7900,.65],[8200,.2],[8500,.4],[8800,.1],[9200,.55],[9600,.3],[9900,.15],
[10300,.45],[10800,.25],[11300,.6],[11800,.3],[12400,.1],[13000,.5],[13600,.35],[14300,.2],[15000,.55],[15800,.3],[16500,.45],[17300,.2],[18200,.4],[19000,.6],[20000,.3],[21000,.15],[22000,.45],[23200,.3],[24300,.5],[25500,.2],[27000,.35],[29000,.25]];
const redC=[[955,6.96],[91000,6.5],[52500,5.46],[72400,4.84],[81000,1.75],[42700,2.43],[34700,3.89],[14100,4.59],[14100,3.27],[14500,3.27],[18600,3.25],[8100,3.45],[1860,4.18],[575,3.75],[5500,3.89],[2690,2.96],[1410,2.77],[3020,2.64],[10500,2.91],[11000,2.82],[16600,2.29],[18200,2.29],[18600,1.93],[21900,1.66],[24500,.95],[18600,1.45],[15100,1.34],[14500,1.04],[13200,.95],[10500,1.93],[10000,1.57],[7760,2.11],[7940,1.39],[7240,1.25],[5500,1.66],[5010,1.48],[5250,1.84],[5750,1.96],[5130,2.02],[3240,1.96],[3800,1.93],[4170,1.79],[4370,1.66],[3630,1.39],[3160,1.57],[2750,1.84],[2510,1.57],[2140,1.39],[1950,1.43],[1780,1.04],[1550,.86],[1290,1.04],[1260,1.57],[1170,1.66],[1050,1.07],[955,2.02],[776,2.38],[562,1.66],[339,2.02],[417,1.75],[257,1.93],[224,2.52],[200,2.32],[155,1.84],[49,2.5],[54,2.46],[8300,1.04],[11500,.68],[5500,.59],[3800,.68],[13800,.32],[6600,.86],
[11.7,-3.75],[12.6,-5.48],[10.7,-6.91],[14.1,-7.13],[16.6,-4.64],[18.6,-4.38],[19,-4.38],[19,-5.0],[19.5,-3.55],[16.2,-5.89],[20.4,-6.91],[19,-7.41],[22.9,-4.29],[26.9,-3.75],[28.2,-3.75],[31.6,-3.25],[33.1,-3.25],[33.1,-4.55],[36.3,-4.38],[36.3,-5.84],[38.9,-4.59],[39.8,-7.32],[39.8,-2.75],[43.7,-3.07],[45.7,-2.68],[46.8,-2.54],[49,-3.02],[51.3,-3.96],[53.7,-3.21],[53.7,-2.54],[56.2,-5.25],[61.7,-6.68],[67.6,-4.29],[69.2,-4.59],[70.8,-5.84],[70.8,-6.07],[67.6,-2.0],[77.6,-2.0],[91.2,-2.27],[93.3,-2.0],[110,-2.63],[110,-3.21],[110,-5.66],[117,-5.84],[120,-3.04],[129,-2.18],[148,-2.09],[158,-2.09],[162,-2.27],[174,-4.14],[191,-4.59],[204,-3.02],[204,-3.84],[204,-6.11],[224,-2.93],[219,-5.75],[245,-5.66],[257,-6.11],[257,-5.75],[275,-4.11],[282,-1.64],[339,-1.91],[363,-1.43],[295,-5.84],[309,-5.84],[339,-5.88],[363,-5.84],[363,-4.41],[389,-2.41],[407,-6.11],[417,-2.14],[447,-5.93],[468,-5.84],[447,-4.82],[513,-3.43],[525,-3.79],[550,-3.57],[562,-2.98],[575,-4.95],[575,-5.66],[589,-5.43],[389,-1.55],[525,-1.46],[562,-1.43],[589,-1.68],[617,-.96],[813,-1.11],[776,-2.0],[832,-5.93],[1000,-6.16],[871,-1.43],[955,-1.11],[1120,-1.96],[1260,-.84],[1450,-1.73],[1580,-2.14],[1900,-2.09],[1580,-1.11],[1700,-.75],[2140,-1.11],[2340,-1.61],[2510,-2.98],[2510,-3.88],[2400,-5.36],[2630,-6.55],[2750,-.84],[3310,-.93],[4900,-.75],[5890,-.93],[8500,-.75],[10700,-1.34]];
const triDownC=[18,29,30,35,37,43.5,45.5,49,51,112,152,159,224,240,355,372,390,427,490,585,1350,8700];

const grayD=[[3,-.99],[3.9,.23],[9.3,1.26],[5.6,1.23],[5,-1.3],[5.9,-1.15],[7.4,-1.46],[8.1,-1.05],[5,.9],[5.3,.5],[5.5,.3],[5.7,-.3],[6,.7],[6.2,.4],[6.4,-.6],[6.6,.9],[6.8,.2],[7,-.9],[7.2,.6],[7.4,.35],[7.6,-.2],[7.8,.95],[8,.5],[8.2,-.7],[8.4,.1],[8.6,.75],[8.8,-.4],[9,.45],[9.2,-1.0],[9.5,.85],[9.8,-.1],[10,.3],[10.5,-.6],[11,.6],[11.5,-.25],[12,.9],[12.5,-.8],[13,.15],[5.2,.6],[6.5,.55],[7.5,.8],[8.5,.3],[5.8,-.85],[9.6,-.75],[10.2,-1.25],[6.1,.05],[11.5,.45],[12.8,-.45],[5.4,.75],[6.3,.25],[7.1,.45],[8.3,.6],[9.1,.15],[10.8,-.35],[12.2,-.15],[6.9,-.45],[5.1,-.55],
[15.8,1.67],[15.8,1.61],[24.5,1.35],[33,1.2],[39,1.06],[13.5,-.3],[14,.5],[14.5,-.7],[15,.2],[15.5,-1.0],[16,.7],[16.5,-.15],[17,-.5],[17.5,.35],[18,-.8],[18.5,.0],[19,.6],[19.5,-.4],[20,-1.1],[21,.25],[22,-.6],[23,.8],[24,-.2],[25,-.9],[26,.4],[27,-.45],[28,.1],[29,-.75],[30,.55],[31,-.1],[32,-.5],[33,.3],[34,-.95],[35,.05],[36,-.3],[37,.7],[38,-.6],[39,.15],[40,-.2],[14.2,.9],[20,.9],[27,.75],[35,.6],[18,-1.2],[30,-1.05],[13.8,-.15],[15.2,-.45],[16.8,.3],[19,-.25],[21.5,-.3],[23.5,.1],[26,-.3],[29,.35],[31.5,-.3],[34,.45],[37.5,-.4],
[50,1.03],[54,1.03],[41,-.4],[42,.3],[43,-.8],[44,.1],[45,-.2],[46,.55],[47,-.6],[48,.0],[49,.4],[50,-.35],[51,.2],[52,-.9],[53,.6],[55,-.1],[56,.25],[57,-.55],[58,.7],[59,-.25],[60,.1],[62,-.7],[63,.45],[64,-.05],[65,.3],[66,-.4],[67,.6],[68,-.15],[70,.15],[71,-.8],[72,.35],[74,-.3],[75,.05],[76,.5],[78,-.5],[79,.2],[81,-.1],[82,.65],[84,-.45],[85,.1],[87,.4],[88,-.2],[90,-.65],[92,.3],[93,.0],[95,-.35],[96,.5],[98,-.1],[99,.25],[60,.75],[80,-.75],[70,.7],[43,-.05],[47,.2],[53,-.3],[58,.05],[64,-.25],[69,-.05],[73,.15],[77,-.15],[83,.25],[89,.0],[94,-.25],
[115,1.03],[101,-.2],[103,.3],[105,-.5],[107,.1],[109,-.3],[111,.5],[113,-.05],[115,-.6],[117,.2],[119,-.25],[121,.4],[123,.0],[125,-.45],[128,.15],[131,-.15],[134,.45],[137,-.55],[140,.05],[143,.3],[146,-.3],[149,.1],[152,-.1],[155,.35],[158,-.5],[161,.0],[165,.25],[169,-.2],[173,.5],[177,-.4],[181,.1],[185,-.15],[189,.3],[193,-.6],[197,.05],[201,.4],[206,-.3],[211,.15],[216,-.05],[221,.35],[226,-.45],[231,.0],[236,.2],[242,-.2],[248,.45],[254,-.1],[260,.1],[266,-.35],[272,.25],[278,-.05],[285,.3],[292,-.25],[299,.05],[306,.4],[313,-.4],[130,.6],[160,-.7],[190,.55],[220,-.6],[260,.5],[300,-.5],[140,-.35],[250,.2],[104,.05],[110,-.4],[118,.35],[126,-.1],[135,.2],[144,-.2],[154,.15],[163,-.3],[174,.05],[186,.2],[199,-.2],[213,.05],[228,-.25],[244,.1],[262,-.15],[280,.15],[302,-.15],
[320,.1],[330,-.2],[340,.3],[350,-.05],[360,.2],[370,-.35],[380,.05],[390,.35],[400,-.15],[410,.1],[420,-.4],[430,.25],[440,.0],[450,-.25],[460,.3],[470,.05],[480,-.3],[490,.15],[500,-.1],[515,.35],[530,-.2],[545,.1],[560,-.4],[575,.2],[590,.0],[605,-.15],[620,.3],[635,-.3],[650,.05],[665,.2],[680,-.1],[700,.35],[720,-.35],[740,.1],[760,-.05],[780,.25],[800,-.25],[820,.0],[840,.3],[860,-.15],[880,.15],[900,-.3],[920,.05],[940,.25],[960,-.1],[980,.1],[400,.45],[600,.45],[800,.4],[500,-.45],[700,-.45],[900,-.4],[325,-.1],[345,.15],[365,-.15],[385,.2],[405,.0],[425,.15],[455,-.1],[485,.25],[520,.05],[555,-.1],[595,.15],[640,-.1],[690,.1],[750,-.2],[810,.15],[870,-.05],[930,-.15],[990,.2],
[1000,.05],[1040,-.2],[1080,.2],[1120,-.05],[1160,.1],[1200,-.3],[1250,.15],[1300,.0],[1350,-.15],[1400,.25],[1450,-.25],[1500,.05],[1550,.2],[1600,-.1],[1650,.1],[1700,-.3],[1750,.15],[1800,.0],[1850,-.2],[1900,.25],[1950,-.05],[2000,.1],[2060,-.25],[2120,.15],[2180,.0],[2240,-.15],[2300,.2],[2370,-.3],[2440,.05],[2510,.15],[2580,-.1],[2650,.25],[2730,-.2],[2810,.0],[2890,.1],[2970,-.15],[3050,.05],[3130,-.25],[1060,.1],[1180,.0],[1320,-.1],[1480,.1],[1620,.0],[1780,-.1],[1980,.0],[2200,-.05],[2420,-.1],[2700,.05],[2950,.0],
[3200,.0],[3400,-.15],[3600,.1],[3800,-.05],[4000,.05],[4200,-.2],[4400,.0],[4600,-.1],[4800,.1],[5000,-.25],[5300,.05],[5600,-.1],[5900,.0],[6200,-.2],[6500,.1],[6900,-.05],[7300,.05],[7700,-.15],[8100,.0],[8600,-.1],[9100,.05],[9600,-.2],[4000,.2],[6000,.2],[8000,.15],[3500,-.05],[4500,.1],[5500,-.05],[7000,.1],
[10000,-.05],[10700,-.15],[11500,.05],[12300,-.1],[13200,.0],[14100,-.2],[15100,.05],[16200,-.05],[17400,.1],[18600,-.1],[20000,-.21],[21400,.0],[23000,.05],[24500,-.05],[26300,.1],
[32000,.2],[46000,.23],[46000,-.13],[370000,.04]];
const coreD=[[5.1,.45],[5.4,.1],[5.7,.85],[6,.35],[6.3,-.15],[6.6,.65],[6.9,.3],[7.2,.0],[7.5,.55],[7.8,.15],[8.1,.8],[8.4,-.3],[8.7,.4],[9,.05],[9.3,.6],[9.6,-.5],[9.9,.35],[10.3,.1],[10.6,-.85],[11,.25],[11.4,-.4],[11.8,.1],[12.2,.5],[12.6,-.6],[13,-.2],[13.5,.3],[14,-.45],[14.5,.05],[15,-.3],[16,.15],[17,-.65],[18,.35],[19,-.1],[20,.4],[21,-.55],[22,.05],[23,-.2],[24,.45],[25,-.35],[26,.1],[28,-.6],[30,.2],[32,-.3],[34,-.05],[36,.3],[38,-.4],[40,.05],
[42,.15],[44,-.35],[47,.35],[49,-.1],[52,.05],[54,-.45],[57,.25],[59,-.2],[62,.4],[64,.0],[67,-.3],[69,.2],[72,-.15],[74,.45],[77,-.4],[79,.05],[82,-.25],[85,.3],[88,-.05],[91,.15],[94,-.45],[97,.35],
[101,.05],[104,-.3],[106,.25],[109,-.1],[111,.0],[113,-.4],[116,.3],[119,.1],[122,-.2],[125,.35],[127,-.05],[130,-.35],[133,.15],[136,-.15],[139,.3],[142,-.45],[145,.0],[148,.25],[151,-.25],[154,.1],[157,-.05],[160,.35],[163,-.35],[166,.05],[170,.2],[173,-.2],[177,.3],[180,-.45],[184,.0],[188,.15],[192,-.3],[196,.35],[200,-.1],[204,.1],[208,-.4],[212,.25],[217,.05],[221,-.2],[226,.3],[231,-.35],[236,.1],[241,-.05],[246,.3],[251,-.3],[257,.15],[262,-.1],[268,.35],[274,-.4],[280,.05],[286,.2],[292,-.2],[299,.3],[305,-.3],[312,.1],[318,-.05],
[322,.2],[328,-.15],[335,.05],[342,-.3],[349,.25],[356,.0],[364,-.2],[371,.3],[379,-.05],[387,.15],[395,-.3],[403,.2],[412,-.1],[420,.05],[429,.3],[438,-.25],[447,.1],[456,-.05],[466,.25],[475,-.35],[485,.05],[495,.2],[505,-.15],[516,.3],[527,-.05],[538,.1],[549,-.3],[561,.25],[572,.0],[584,-.2],[597,.3],[609,-.1],[622,.1],[635,-.25],[648,.2],[662,-.05],[676,.25],[690,-.3],[704,.05],[719,.2],[734,-.15],[749,.3],[765,-.25],[781,.1],[797,-.05],[814,.2],[831,-.3],[848,.05],[866,.25],[884,-.2],[902,.1],[921,-.05],[940,.2],[960,-.25],[980,.05],[995,.15],
[1010,-.1],[1035,.15],[1060,-.25],[1085,.05],[1110,.2],[1135,-.15],[1165,.0],[1190,.15],[1220,-.3],[1250,.1],[1280,-.05],[1310,.2],[1345,-.2],[1375,.05],[1410,.15],[1445,-.1],[1480,-.3],[1515,.1],[1555,.0],[1590,.2],[1630,-.2],[1670,.05],[1710,.15],[1750,-.15],[1790,.0],[1835,.2],[1880,-.25],[1925,.05],[1970,.15],[2020,-.1],[2070,-.3],[2120,.05],[2170,.2],[2220,-.15],[2270,.0],[2330,.15],[2380,-.2],[2440,.1],[2500,-.05],[2560,.2],[2620,-.25],[2680,.05],[2750,.1],[2810,-.15],[2880,.0],[2950,.15],[3020,-.2],[3100,.05],[3170,-.1],
[3250,-.1],[3400,.05],[3550,-.2],[3700,.1],[3850,-.05],[4000,-.25],[4150,.0],[4300,.1],[4450,-.15],[4600,.05],[4750,-.05],[4900,-.2],[5050,.05],[5250,-.1],[5450,.0],[5650,-.2],[5850,.05],[6050,-.1],[6300,.0],[6550,-.25],[6800,-.05],[7050,.05],[7300,-.15],[7600,-.05],[7900,.05],[8200,-.2],[8500,-.05],[8800,.0],[9200,-.1],[9600,.05],[9900,-.15],
[10300,-.1],[10800,.05],[11300,-.05],[11800,-.2],[12400,.0],[13000,-.1],[13600,.05],[14300,-.15],[15000,.0],[15800,-.05],[16500,.1],[17300,-.1],[18200,.0],[19000,.05],[20000,-.05],[21000,.1],[22000,-.05],[23200,.0],[24300,.1],[25500,-.05]];
const redD=[[692,2.62],[661,2.42],[19000,2.52],[7760,2.2],[290,2.23],[2340,2.09],[5250,2.06],[2950,1.92],[145,1.87],[13500,1.73],[12300,1.66],[21400,1.56],[6600,1.77],[3800,1.69],[1260,1.66],[257,1.72],[162,1.64],[87,1.59],[120,1.5],[132,1.5],[282,1.53],[427,1.48],[1020,1.48],[3160,1.55],[7760,1.45],[7940,1.37],[9330,1.3],[27500,1.26],[63000,1.25],[12000,1.28],[13200,1.17],[8900,1.21],[4470,1.33],[4680,1.23],[4070,1.18],[10000,1.0],[7080,1.0],[5250,1.03],[4270,.96],[4470,.96],[2400,1.33],[1700,1.18],[1660,1.16],[1150,1.13],[724,1.16],[500,1.01],[251,.85],[263,.85],[288,.97],[155,.95],[229,1.39],[115,1.08],[11.5,1.13],[28,1.3],
[170,.55],[200,.7],[240,.45],[280,.6],[320,.8],[350,.5],[380,.65],[420,.4],[450,.75],[480,.55],[520,.9],[560,.45],[600,.6],[640,.35],[680,.7],[720,.5],[760,.85],[800,.4],[850,.6],[900,.3],[950,.5],[1000,.75],[1050,.35],[1100,.55],[1150,.25],[1200,.45],[1250,.7],[1300,.3],[1350,.5],[1400,.9],[1450,.35],[1500,.6],[1550,.25],[1600,.45],[1650,.75],[1700,.3],[1750,.5],[1800,.2],[1850,.4],[1900,.65],[1950,.3],[2000,.5],[2100,.25],[2200,.45],[2300,.7],[2400,.3],[2500,.5],[2600,.2],[2700,.4],[2800,.6],[2900,.25],[3000,.45],[3100,.8],[3200,.3],[3300,.5],[3400,.2],[3500,.4],[3600,.6],[3700,.25],[3800,.45],[3900,.3],[4000,.55],[4100,.2],[4200,.4],[4300,.7],[4400,.3],[4500,.5],[4600,.2],[4700,.35],[4800,.55],[4900,.25],[5000,.4],[5200,.6],[5400,.3],[5600,.45],[5800,.2],[6000,.35],[6200,.55],[6400,.25],[6600,.4],[6800,.3],[7000,.5],[7200,.2],[7400,.35],[7600,.6],[7800,.25],[8000,.4],[8300,.3],[8600,.5],[8900,.2],[9200,.35],[9500,.45],[9800,.25],[10200,.4],[10600,.3],[11000,.5],[11500,.2],[12000,.35],[12500,.45],[13000,.25],[13500,.4],[14000,.3],[14700,.5],[15400,.2],[16000,.35],[16800,.45],[17500,.25],[18500,.3],[19500,.4],[20500,.2],[21500,.3],[23000,.45],[24500,.25],[26000,.35],[28000,.2],[30000,.3],[33000,.25],[36000,.2],[40000,.15],
[2200,.3],[2600,.35],[3000,.2],[3400,.35],[3800,.25],[4200,.35],[4600,.4],[5000,.3],[5500,.25],[6000,.45],[6500,.3],[7000,.25],[7500,.4],[8000,.2],[8500,.35],[9000,.3],[9500,.2],[10000,.3],[11000,.25],[12000,.2],[13000,.35],[14000,.2],[16000,.25],[18000,.2],[20000,.35],[22000,.2],[25000,.3],[4300,.5],[5300,.5],[6300,.55],[7300,.45],[8300,.5],[9300,.5],[10300,.45],[11500,.6],[14000,.6],[17000,.55],[20000,.55],[24000,.15],[28000,.35],[32000,.3],[2800,.75],[3600,.7],[4800,.7],[6200,.75],[8000,.7],[10500,.65],[13500,.7],[17500,.7],[22000,.6],
[5.6,-1.85],[6.3,-2.12],[7.9,-2.0],[9.8,-1.77],[11.5,-2.55],[16.6,-2.42],[21.4,-2.44],[25,-2.59],[41,-2.32],[120,-2.52],[295,-2.44],[6.8,-1.45],[8.5,-1.35],[10.5,-1.3],
[11,-.75],[12,-1.3],[13,-1.45],[14,-1.0],[15,-1.9],[16,-2.0],[17,-1.4],[18,-.8],[19,-1.6],[20,-1.7],[22,-.95],[24,-1.25],[26,-1.15],[27,-1.95],[28,-1.3],[29,-1.2],[30,-1.0],[32,-1.85],[34,-.95],[35,-1.5],[36,-.8],[38,-1.5],[40,-.85],[42,-1.1],[44,-1.55],[46,-.8],[48,-1.6],[50,-.95],[52,-1.3],[54,-1.65],[56,-.85],[58,-1.2],[60,-.6],[62,-1.0],[64,-1.55],[66,-.75],[68,-1.1],[70,-.65],[72,-1.85],[74,-.9],[76,-1.4],[78,-.6],[80,-1.25],[82,-1.95],[84,-.7],[86,-1.05],[88,-.55],[90,-1.7],[92,-.85],[95,-2.0],[98,-.65],[102,-.95],[106,-1.5],[110,-.75],[114,-1.1],[118,-1.45],[122,-.55],[126,-.9],[130,-1.3],[134,-.65],[138,-2.0],[142,-1.0],[146,-.7],[150,-2.1],[155,-.85],[160,-1.2],[165,-.6],[170,-1.6],[175,-.9],[180,-.5],[185,-1.75],[190,-.75],[196,-1.1],[202,-.6],[208,-.95],[215,-1.5],[222,-.7],[230,-.55],[238,-1.05],[246,-.65],[255,-1.8],[264,-.5],[273,-.8],[282,-1.35],[292,-.6],[302,-.9],[312,-.45],[325,-1.6],[340,-.7],[355,-.5],[370,-1.2],[385,-.6],[400,-.95],[420,-.45],[440,-1.9],[460,-.7],[480,-.5],[500,-1.05],[525,-.6],[550,-1.8],[575,-.45],[600,-.85],[630,-1.6],[660,-.5],[690,-1.25],[720,-.65],[760,-.4],[800,-.9],[840,-.55],[880,-1.4],[920,-.45],[960,-.7],[1000,-1.0],[1050,-1.55],[1100,-.5],[1150,-1.6],[1200,-.8],[1260,-.4],[1320,-.55],[1400,-.95],[1480,-2.15],[1560,-.6],[1650,-1.8],[1750,-.45],[1850,-1.7],[1950,-.7],[2100,-1.95],[2250,-.5],[2400,-1.7],[2600,-.8],[2800,-.45],[3000,-1.2],[3300,-.6],[3600,-.4],[4000,-.75],[4500,-.9],[5000,-.5],[5600,-.65],[6300,-.4],[7000,-1.4],[7500,-1.42],[8000,-.35],[9000,-.3],[9500,-1.05],[11000,-.3],[13000,-.25],[17000,-.3],
[150,-.45],[190,-.4],[240,-.4],[330,-.35],[430,-.3],[560,-.3],[700,-.35],[1180,-.35],[1600,-.35],[2000,-.3],[2700,-.3],[3400,-.25]];
const triDownD=[10.7,13.6,14.7,15.8,19.6,30,33,36,41,44,54,74,89,148,163,405,427,575,650,930,1020,1200];
const triUpD=[89];

const grayE=[[2.2,-.29],[2.3,-.82],[3.5,.08],[3.6,-.69],[3.7,-.95],[4.2,-1.82],[5,-1.91],[6.3,-1.45],[6.3,-1.5],[8.9,-1.8],[10,-1.62],[11.5,-1.56],[12,-1.41],[4.5,-.3],[4.8,-.6],[5,-.1],[5.2,-.8],[5.4,-.4],[5.6,-1.1],[5.8,.3],[6,-.5],[6.2,-.2],[6.5,-.9],[6.7,.1],[7,-.6],[7.2,-.35],[7.5,-1.2],[7.8,.4],[8,-.45],[8.3,-.15],[8.6,-.8],[9,.2],[9.3,-.55],[9.6,-.25],[10,-1.0],[10.4,.5],[10.8,-.3],[11.2,-.7],[11.6,.1],[12,-.4],[12.5,-1.1],[13,.3],[4.5,.2],[5.5,-1.3],[7.1,-.75],[9.8,-1.3],[6,.6],[4.9,-.45],[5.3,-.65],[5.7,-.25],[6.1,-.75],[6.6,-.4],[7.4,-.55],[8.2,-.7],[8.8,-.35],[9.9,-.6],[11,-.5],[12.3,-.15],
[21,1.3],[25,.91],[40,.95],[13.5,-1.59],[18.6,-1.11],[19.5,-1.41],[22.4,-1.2],[25,-1.39],[13.5,-.5],[14,.2],[14.5,-.9],[15,-.2],[15.5,.5],[16,-.6],[16.5,-.05],[17,-1.2],[17.5,.3],[18,-.4],[18.5,-.8],[19,.05],[19.5,.6],[20,-.3],[21,-.65],[22,.15],[23,-.15],[24,-.9],[25,.35],[26,-.45],[27,-.1],[28,.7],[29,-.7],[30,.1],[31,-.35],[32,-1.0],[33,.4],[34,-.2],[35,-.55],[36,.2],[37,-.05],[38,-.85],[39,.45],[40,-.3],[15,.7],[30,.55],[35,-1.3],[26,1.0],[14.2,-.35],[16.2,-.3],[18.2,-.1],[20.5,-.5],[23.5,-.4],[27.5,-.25],[31.5,-.15],[36.5,-.35],
[47,.88],[44,.88],[62,.83],[46,-1.59],[49,-1.62],[81,-1.17],[41,-.2],[42,.3],[43,-.6],[44,.1],[45,-.35],[46,.5],[47,-.05],[48,-.8],[49,.25],[50,-.45],[51,.0],[52,.6],[53,-.25],[54,-.7],[55,.15],[56,-.1],[57,.4],[58,-.55],[59,.05],[60,-.3],[62,.3],[63,-.15],[64,-.9],[65,.45],[66,.0],[67,-.4],[68,.2],[70,-.6],[71,.7],[72,-.05],[74,.25],[75,-.35],[76,.1],[78,-.8],[79,.35],[80,-.2],[82,.05],[84,.5],[85,-.45],[87,.15],[88,-.1],[90,-.65],[92,.3],[94,-.25],[96,.0],[98,.55],[99,-.4],[55,-1.1],[75,-1.0],[90,.75],[43,-.1],[48,.1],[53,-.05],[58,.2],[63,-.35],[69,-.15],[73,.1],[77,-.25],[83,-.1],[89,.2],[95,-.15],
[155,-1.28],[155,-1.02],[182,.83],[280,-1.5],[380,-.89],[380,-1.35],[427,-1.14],[101,.2],[103,-.3],[105,.05],[107,.45],[109,-.55],[111,.15],[113,-.15],[115,.35],[117,-.4],[119,.0],[121,.6],[123,-.2],[125,.1],[128,-.65],[131,.25],[134,-.05],[137,.4],[140,-.3],[143,.05],[146,.55],[149,-.45],[152,.15],[155,-.1],[158,.3],[161,-.25],[165,.0],[169,.45],[173,-.55],[177,.1],[181,-.15],[185,.35],[189,-.35],[193,.05],[197,.2],[201,-.2],[206,.5],[211,-.45],[216,.0],[221,.25],[226,-.1],[231,.4],[236,-.6],[242,.1],[248,-.2],[254,.3],[260,-.35],[266,.05],[272,.6],[278,-.05],[285,.2],[292,-.3],[299,.1],[306,.45],[313,-.15],[110,-.8],[150,.7],[200,-.75],[250,.65],[300,-.7],[104,-.1],[112,.3],[120,-.25],[127,.2],[135,-.35],[144,.15],[153,-.2],[163,.15],[175,-.05],[187,.1],[199,.0],[214,.15],[229,-.2],[245,.05],[263,-.1],[281,.0],[302,-.05],
[380,1.95],[740,1.92],[525,1.16],[660,1.07],[775,1.14],[910,.93],[320,.0],[330,.3],[340,-.2],[350,.1],[360,.45],[370,-.35],[380,.15],[390,-.05],[400,.25],[410,-.5],[420,.05],[430,.35],[440,-.2],[450,.1],[460,.5],[470,-.3],[480,.0],[490,.2],[500,-.45],[515,.3],[530,-.1],[545,.1],[560,.4],[575,-.25],[590,.0],[605,.25],[620,-.4],[635,.15],[650,-.05],[665,.35],[680,-.2],[700,.05],[720,.45],[740,-.3],[760,.1],[780,-.1],[800,.3],[820,-.45],[840,.0],[860,.2],[880,-.15],[900,.4],[920,.05],[940,-.25],[960,.15],[980,-.05],[450,.6],[650,.6],[850,.55],[550,-.6],[750,-.55],[950,-.5],[335,.1],[365,-.1],[395,.2],[435,-.05],[475,.15],[520,-.2],[570,.1],[625,.0],[690,.2],[770,.15],[830,-.1],[890,.1],[970,.25],
[1000,.1],[1040,-.15],[1080,.3],[1120,.0],[1160,.2],[1200,-.3],[1250,.1],[1300,.35],[1350,-.1],[1400,.15],[1450,-.35],[1500,.25],[1550,.0],[1600,.4],[1650,-.2],[1700,.1],[1750,.3],[1800,-.05],[1850,.15],[1900,-.4],[1950,.2],[2000,.0],[2060,.3],[2120,-.2],[2180,.1],[2240,.35],[2300,-.1],[2370,.05],[2440,.25],[2510,-.3],[2580,.1],[2650,.0],[2730,.3],[2810,-.15],[2890,.15],[2970,.05],[3050,-.25],[3130,.2],[1100,.55],[1600,-.5],[2200,.5],[2800,.45],[1060,.15],[1180,.05],[1320,.2],[1480,.05],[1680,.25],[1880,.05],[2100,.15],[2350,.2],[2620,.15],[2920,.1],
[4900,1.17],[8700,1.31],[5900,-1.29],[3200,.1],[3400,-.1],[3600,.25],[3800,.0],[4000,.35],[4200,-.2],[4400,.1],[4600,.3],[4800,-.05],[5000,.15],[5300,-.3],[5600,.2],[5900,.05],[6200,.35],[6500,-.1],[6900,.15],[7300,.0],[7700,.25],[8100,-.15],[8600,.1],[9100,.3],[9600,.0],[4000,-.35],[6000,.5],[8000,.45],[5000,.45],[3500,.2],[4300,.15],[5200,.05],[6400,.2],[7500,.1],[8900,.15],
[10000,.15],[10700,.0],[11500,.25],[12300,.05],[13200,.2],[14100,-.1],[15100,.15],[16200,.3],[17400,.05],[18600,.2],[20000,.1],[21400,.25],[23000,.05],[24500,-.16],[26300,.15],[28000,.1],
[35000,.14],[51000,.16],[280000,-.2]];
const coreE=[[5.5,-.2],[5.9,-.7],[6.3,-.35],[6.7,-.55],[7.1,-.15],[7.5,-.8],[7.9,-.3],[8.4,-.6],[8.9,-.1],[9.4,-.45],[10,-.75],[10.5,-.2],[11,-.5],[11.6,-.05],[12.2,-.65],[12.9,-.3],[13.6,.1],[14.3,-.55],[15,-.15],[16,-.4],[17,.15],[18,-.6],[19,-.2],[20,.3],[21,-.45],[22,-.05],[23,-.75],[24,.2],[25,-.3],[26,-.6],[28,.0],[30,-.35],[32,.25],[34,-.5],[36,-.1],[38,.3],[40,-.4],
[42,-.4],[44,.15],[47,-.2],[49,.35],[52,-.55],[54,.05],[57,-.3],[59,.4],[62,-.1],[64,.2],[67,-.6],[69,.0],[72,.3],[74,-.35],[77,.1],[79,-.5],[82,.25],[85,-.05],[88,.4],[91,-.3],[94,.1],[97,-.45],
[101,.1],[104,-.25],[106,.3],[109,-.05],[111,-.4],[113,.2],[116,.0],[119,-.3],[122,.35],[125,-.1],[127,.15],[130,-.45],[133,.05],[136,.3],[139,-.2],[142,.1],[145,-.35],[148,.25],[151,.0],[154,-.2],[157,.4],[160,-.05],[163,.15],[166,-.4],[170,.3],[173,.05],[177,-.25],[180,.2],[184,-.1],[188,.35],[192,-.3],[196,.1],[200,-.05],[204,.3],[208,-.4],[212,.15],[217,.0],[221,-.25],[226,.35],[231,-.1],[236,.2],[241,-.35],[246,.05],[251,.3],[257,-.2],[262,.1],[268,-.05],[274,.4],[280,-.3],[286,.15],[292,.0],[299,-.2],[305,.3],[312,-.1],[318,.1],
[322,-.15],[328,.2],[335,.0],[342,-.3],[349,.25],[356,.05],[364,-.2],[371,.3],[379,-.05],[387,.15],[395,-.35],[403,.1],[412,.3],[420,-.15],[429,.05],[438,.25],[447,-.3],[456,.1],[466,-.05],[475,.3],[485,-.2],[495,.05],[505,.2],[516,-.3],[527,.15],[538,.0],[549,.3],[561,-.2],[572,.1],[584,-.05],[597,.25],[609,-.35],[622,.05],[635,.2],[648,-.15],[662,.3],[676,.0],[690,-.25],[704,.15],[719,.35],[734,-.1],[749,.05],[765,.25],[781,-.3],[797,.1],[814,.3],[831,-.05],[848,.15],[866,-.25],[884,.2],[902,.0],[921,.3],[940,-.15],[960,.1],[980,.25],[995,-.1],
[1010,.2],[1035,-.1],[1060,.05],[1085,.3],[1110,-.2],[1135,.1],[1165,.25],[1190,-.05],[1220,.15],[1250,-.25],[1280,.05],[1310,.3],[1345,.1],[1375,-.15],[1410,.2],[1445,.0],[1480,.3],[1515,-.1],[1555,.15],[1590,.05],[1630,-.25],[1670,.2],[1710,.35],[1750,.0],[1790,-.15],[1835,.25],[1880,.1],[1925,-.05],[1970,.3],[2020,.05],[2070,-.2],[2120,.15],[2170,.3],[2220,.0],[2270,-.15],[2330,.2],[2380,.1],[2440,-.1],[2500,.25],[2560,.05],[2620,-.2],[2680,.15],[2750,.3],[2810,.0],[2880,.2],[2950,-.1],[3020,.1],[3100,.25],[3170,-.05],
[3250,.2],[3400,.0],[3550,.3],[3700,.1],[3850,-.15],[4000,.2],[4150,.05],[4300,.3],[4450,-.05],[4600,.15],[4750,.25],[4900,.0],[5050,.2],[5250,-.1],[5450,.3],[5650,.1],[5850,-.05],[6050,.25],[6300,.1],[6550,.0],[6800,.3],[7050,.15],[7300,-.05],[7600,.2],[7900,.05],[8200,.25],[8500,.1],[8800,-.05],[9200,.2],[9600,.1],[9900,.0],
[10300,.1],[10800,.25],[11300,.05],[11800,.2],[12400,.1],[13000,.3],[13600,.05],[14300,.15],[15000,.25],[15800,.05],[16500,.2],[17300,.1],[18200,.0],[19000,.2],[20000,.1],[21000,.15],[22000,.05],[23200,.2]];
const redE=[[62,1.7],[55,1.3],[54,1.11],[58,1.0],[63,1.0],[66,1.0],[251,.86],[389,.81],[490,1.45],[562,1.32],[1350,1.04],[1580,1.37],[1820,2.18],[2750,.97],[3090,.83],[3390,.98],[3630,.86],[4070,.74],[4070,.68],[3090,.65],[4470,.83],[5750,.83],[7410,.81],[8320,1.75],[11200,1.88],[12000,1.59],[10000,.97],[12900,.91],[16600,1.07],[16200,1.34],[20900,.91],[18200,.68],[16200,.47],[11000,.74],[8500,.32],[28800,1.51],[41700,1.98],[58900,1.82],[67600,2.12],[42700,.71],[85100,.49],[28200,.26],[955,.62],[912,.55],[1230,.35],[1410,.51],[1700,.45],[2040,.5],[2290,.32],[2880,.51],[3160,.56],[5130,.5],[5890,.43],[6170,.57],
[5.2,-1.78],[5.9,-1.75],[12.6,-2.41],[18.2,-2.41],[15.8,-1.94],[18.6,-1.29],[20.9,-1.47],[22.9,-1.05],[22.9,-1.87],[27.5,-1.93],[31.6,-1.82],[32.4,-2.17],[34.7,-1.89],[35,-1.87],[39.8,-2.17],[37.2,-1.2],[41.7,-1.63],[43.7,-1.85],[51.3,-1.06],[56.2,-.99],[60.3,-1.05],[55,-.72],[61.7,-.63],[66.1,-.92],[66.1,-1.59],[64.6,-2.35],[67.6,-2.42],[69.2,-1.34],[72.4,-1.36],[77.6,-.63],[81.3,-1.32],[83.2,-.99],[89.1,-1.85],[97.7,-.87],[110,-.66],[112,-1.22],[123,-1.82],[132,-1.87],[141,-1.22],[145,-1.56],[148,-.69],[166,-1.02],[170,-1.04],[178,-1.59],[191,-1.16],[214,-1.47],[251,-2.39],[263,-1.22],[269,-1.63],[275,-1.34],[295,-1.34],[295,-1.05],[302,-1.82],[282,-1.63],[309,-2.09],[309,-1.17],[355,-2.29],[417,-2.21],[427,-2.29],[437,-1.57],[457,-.7],[490,-.9],[501,-1.1],[513,-.69],[550,-1.82],[589,-1.47],[631,-1.87],[692,-1.31],[776,-.51],[851,-.68],[955,-.54],[1000,-.44],[1050,-.2],[1260,-1.0],[1550,-.36],[1910,-.51],[2140,-.45],[2040,-.96],[2290,-.74],[2510,-.74],[2750,-1.2],[2340,-1.38],[2880,-.36],[3800,-.45],[5620,-.42],[6460,-.24],[8910,-.38],[10500,-.38],[12900,-.48],[5890,-.39],[1700,-.21]];
const triDownE=[5.1,5.9,11,15.8,16.9,17.8,22.5,27,30,31.5,33,41,58,66,115,158,280,490,1380,2230];

// ---------- PANEL LAYOUT ----------
const panels=[
 {left:0,top:60,w:620,h:410,padTop:10,padRight:15,yw:96,xh:94,xMin:5.94,xMax:603000,yLim:3.53,clip:3.28,yTicks:yTicksA,xTitlePad:4.2,yTitlePad:10.7,gray:grayA.concat(coreA),red:redA,triDown:triDownA,triDownGray:triDownGrayA,triUp:triUpA},
 {left:600,top:60,w:615,h:410,padTop:13,padRight:16,yw:96,xh:92,xMin:4.61,xMax:490000,yLim:5.78,clip:5.35,yTicks:yTicksB,xTitlePad:3.2,yTitlePad:10.2,gray:grayB.concat(coreB),red:redB,triDown:triDownB,triDownGray:[],triUp:[]},
 {left:0,top:575,w:620,h:420,padTop:11,padRight:15,yw:96,xh:103,xMin:2.07,xMax:377000,yLim:8.23,clip:7.63,yTicks:yTicksC,xTitlePad:12.5,yTitlePad:10.3,gray:grayC.concat(coreC),red:redC,triDown:triDownC,triDownGray:[],triUp:[]},
 {left:0,top:1090,w:620,h:406,padTop:12,padRight:15,yw:96,xh:88,xMin:1.93,xMax:596000,yLim:2.89,clip:2.68,yTicks:yTicksD,xTitlePad:-1.5,yTitlePad:10.7,gray:grayD.concat(coreD),red:redD,triDown:triDownD,triDownGray:[],triUp:triUpD},
 {left:600,top:1090,w:615,h:406,padTop:15,padRight:13,yw:96,xh:86,xMin:1.40,xMax:451000,yLim:2.73,clip:2.53,yTicks:yTicksE,xTitlePad:-2,yTitlePad:10.2,gray:grayE.concat(coreE),red:redE,triDown:triDownE,triDownGray:[],triUp:[]}
];

const AX_FONT='"Liberation Sans", Arial, Helvetica, sans-serif';
const maPlugin={
 id:'maPlot',
 afterDatasetsDraw(chart,args,opts){
  const ctx=chart.ctx, a=chart.chartArea, y=chart.scales.y;
  ctx.save();
  ctx.beginPath(); ctx.rect(a.left,a.top,a.right-a.left,a.bottom-a.top); ctx.clip();
  const y0=y.getPixelForValue(0);
  ctx.strokeStyle='rgba(255,0,0,0.47)'; ctx.lineWidth=5;
  ctx.beginPath(); ctx.moveTo(a.left,y0); ctx.lineTo(a.right,y0); ctx.stroke();
  ctx.restore();
  ctx.save();
  ctx.strokeStyle='#4a4a4a'; ctx.lineWidth=1.3;
  ctx.strokeRect(a.left,a.top,a.right-a.left,a.bottom-a.top);
  ctx.fillStyle='#1a1a1a'; ctx.font='18px '+AX_FONT; ctx.textAlign='center'; ctx.textBaseline='middle';
  for(const v of opts.yTicks){
   const py=y.getPixelForValue(v);
   ctx.save(); ctx.translate(a.left-32,py); ctx.rotate(-Math.PI/2); ctx.fillText(String(v),0,0); ctx.restore();
  }
  ctx.restore();
 }
};

function fmtTick(v){ const e=Math.round(Math.log10(v)); return '1e+'+(e<10?'0':'')+e; }

function buildPanel(p){
 const c=document.createElement('canvas');
 c.width=p.w; c.height=p.h;
 c.style.cssText='position:absolute;left:'+p.left+'px;top:'+p.top+'px;width:'+p.w+'px;height:'+p.h+'px;';
 document.body.appendChild(c);
 const pt=(arr)=>arr.map(d=>({x:d[0],y:d[1]}));
 const datasets=[
  {data:pt(p.gray),pointRadius:2.05,pointHoverRadius:2.05,pointBorderWidth:0,pointBackgroundColor:'#4d4d4d',order:3},
  {data:pt(p.red),pointRadius:1.95,pointHoverRadius:1.95,pointBorderWidth:0,pointBackgroundColor:'#cc1100',order:2},
  {data:p.triDown.map(x=>({x:x,y:-p.clip})),pointStyle:'triangle',pointRotation:180,pointRadius:3.6,pointBorderWidth:1,pointBorderColor:'#e03a3a',pointBackgroundColor:'rgba(0,0,0,0)',order:1},
  {data:p.triDownGray.map(x=>({x:x,y:-p.clip})),pointStyle:'triangle',pointRotation:180,pointRadius:3.6,pointBorderWidth:1,pointBorderColor:'#666',pointBackgroundColor:'rgba(0,0,0,0)',order:1},
  {data:p.triUp.map(x=>({x:x,y:p.clip})),pointStyle:'triangle',pointRadius:3.6,pointBorderWidth:1,pointBorderColor:'#e03a3a',pointBackgroundColor:'rgba(0,0,0,0)',order:1}
 ];
 new Chart(c,{
  type:'scatter',
  data:{datasets},
  plugins:[maPlugin],
  options:{
   responsive:false,animation:false,events:[],
   layout:{padding:{top:p.padTop,right:p.padRight,left:0,bottom:0}},
   plugins:{legend:{display:false},tooltip:{enabled:false},maPlot:{yTicks:p.yTicks}},
   scales:{
    x:{type:'logarithmic',position:'bottom',min:p.xMin,max:p.xMax,
     afterBuildTicks:s=>{s.ticks=xTickValues.map(v=>({value:v}));},
     afterFit:s=>{s.height=p.xh;},
     ticks:{autoSkip:false,maxRotation:0,minRotation:0,padding:13,color:'#1a1a1a',font:{family:AX_FONT,size:18},callback:v=>fmtTick(v)},
     grid:{display:true,drawOnChartArea:false,drawTicks:true,tickLength:10,color:'#4a4a4a',lineWidth:1.2},
     border:{display:false},
     title:{display:true,text:'mean of normalized counts',color:'#1a1a1a',font:{family:AX_FONT,size:18},padding:{top:0,bottom:p.xTitlePad}}
    },
    y:{type:'linear',position:'left',min:-p.yLim,max:p.yLim,
     afterBuildTicks:s=>{s.ticks=p.yTicks.map(v=>({value:v}));},
     afterFit:s=>{s.width=p.yw;},
     ticks:{display:false},
     grid:{display:true,drawOnChartArea:false,drawTicks:true,tickLength:10,color:'#4a4a4a',lineWidth:1.2},
     border:{display:false},
     title:{display:true,text:'log fold change',color:'#1a1a1a',font:{family:AX_FONT,size:18},padding:{top:p.yTitlePad,bottom:0}}
    }
   }
  }
 });
}
panels.forEach(buildPanel);

// ---------- TEXT LAYOUT ----------
function fitSize(refId,targetW,base){
 const el=document.getElementById(refId); el.style.fontSize=base+'px';
 return base*targetW/el.getBoundingClientRect().width;
}
function place(id,x,baseline,fs){
 const el=document.getElementById(id); el.style.fontSize=fs+'px'; el.style.left=x+'px'; el.style.top='0px';
 const m=el.querySelector('.bl');
 const off=m.getBoundingClientRect().top-el.getBoundingClientRect().top;
 el.style.top=(baseline-off)+'px';
}
const tfs=fitSize('tA',498,26);
place('tA',47,34,tfs); place('tB',649,38.5,tfs); place('tC',47,553,tfs); place('tD',47,1066,tfs); place('tE',649,1067,tfs);
const lfs=fitSize('L1',301,26);
place('L1',841,653,lfs); place('L2',841,693,lfs); place('L3',841,747,lfs); place('L4',841,787,lfs); place('L5',841,852,lfs);
</script>
</body></html>
